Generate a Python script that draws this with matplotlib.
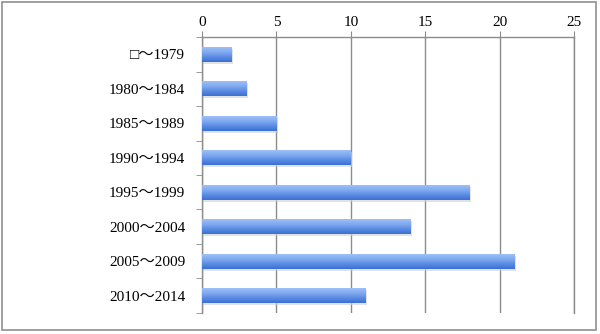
import numpy as np
import matplotlib
matplotlib.use("Agg")
import matplotlib.pyplot as plt
from matplotlib.patches import Rectangle
from matplotlib.colors import LinearSegmentedColormap

# data
periods = ["□～1979", "1980～1984", "1985～1989", "1990～1994",
           "1995～1999", "2000～2004", "2005～2009", "2010～2014"]
counts = [2, 3, 5, 10, 18, 14, 21, 11]
x_ticks = [0, 5, 10, 15, 20, 25]

FONT = ["Liberation Serif", "DejaVu Serif", "Noto Sans CJK JP"]
GRID = "#8c8c8c"

fig = plt.figure(figsize=(6.0, 3.34), dpi=100)
fig.patches.append(Rectangle((0.004, 0.012), 0.989, 0.982, transform=fig.transFigure,
                             facecolor="none", edgecolor="#909090", linewidth=1.2))

ax = fig.add_axes([0.3367, 0.0629, 0.62, 0.8263])
ypos = np.arange(len(periods))
bar_h = 0.43

bars = ax.barh(ypos, counts, height=bar_h, color="none", zorder=3)

# gradient fill + soft shadow for each bar
cmap = LinearSegmentedColormap.from_list("blu", ["#3a70d2", "#5b8ce3", "#80aaf0", "#9dbff6"])
grad = np.linspace(0, 1, 64).reshape(-1, 1)
for b in bars:
    x0, y0 = b.get_x(), b.get_y()
    w, h = b.get_width(), b.get_height()
    ax.add_patch(Rectangle((x0, y0 + 0.06), w + 0.08, h, facecolor="#cfcfcf",
                           edgecolor="none", alpha=0.6, zorder=2))
    ax.imshow(grad, extent=(x0, x0 + w, y0 + h, y0), cmap=cmap, aspect="auto",
              origin="lower", zorder=3, interpolation="bilinear")

ax.set_xlim(0, 25)
ax.set_ylim(len(periods) - 0.5, -0.5)

ax.xaxis.tick_top()
ax.set_xticks(x_ticks)
ax.set_xticklabels([str(t) for t in x_ticks], fontfamily=FONT, fontsize=11)
ax.tick_params(axis="x", direction="out", length=4, color=GRID, pad=2)
ax.grid(axis="x", color=GRID, linewidth=1.0, zorder=1)

ax.set_yticks(ypos)
ax.set_yticklabels(periods, fontfamily=FONT, fontsize=11)
ax.tick_params(axis="y", length=0, pad=12)
ax.set_yticks(np.arange(len(periods) + 1) - 0.5, minor=True)
ax.tick_params(axis="y", which="minor", direction="out", length=4, color=GRID)

ax.spines["bottom"].set_visible(False)
for s in ["top", "left", "right"]:
    ax.spines[s].set_color(GRID)
    ax.spines[s].set_linewidth(1.0)

fig.savefig("out.png", dpi=100)
